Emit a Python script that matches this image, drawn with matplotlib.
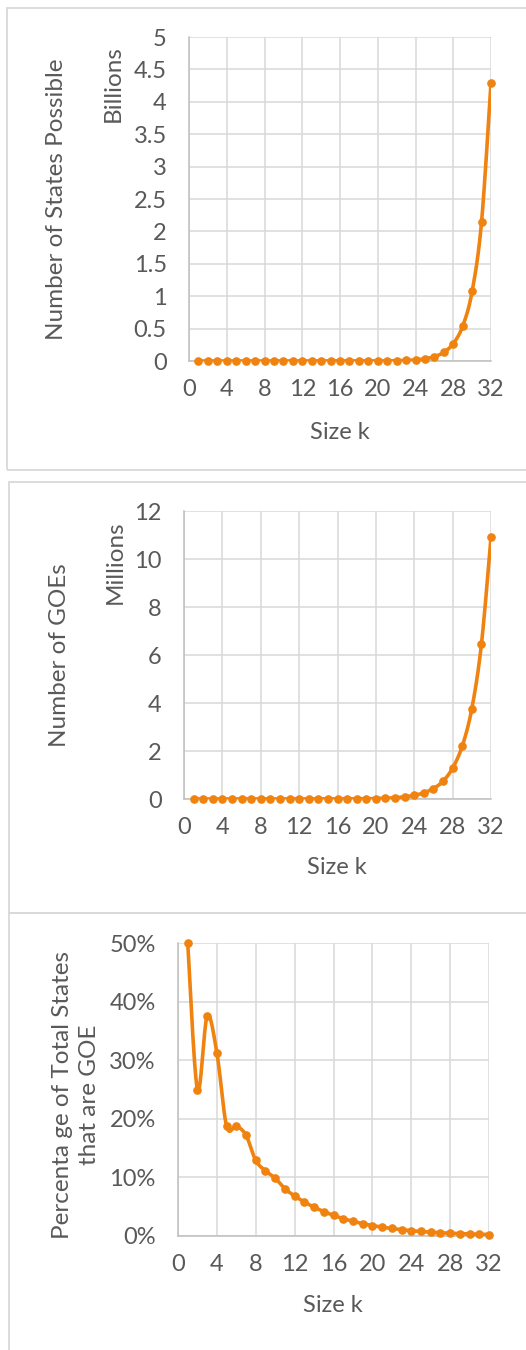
import numpy as np
import matplotlib.pyplot as plt
from matplotlib.patches import Rectangle
from matplotlib.ticker import FuncFormatter

# data
sizes = list(range(1, 33))
states = [2, 4, 8, 16, 32, 64, 128, 256, 512, 1024, 2048, 4096, 8192, 16384,
          32768, 65536, 131072, 262144, 524288, 1048576, 2097152, 4194304,
          8388608, 16777216, 33554432, 67108864, 134217728, 268435456,
          536870912, 1073741824, 2147483648, 4294967296]
goes = [1, 1, 3, 5, 6, 12, 22, 33, 57, 101, 165, 280, 476, 804, 1366, 2307,
        3893, 6580, 11115, 18770, 32000, 54000, 91000, 153000, 258000, 436000,
        740000, 1290000, 2200000, 3760000, 6440000, 10900000]
goe_pct = [50, 25, 37.5, 31.25, 18.75, 18.75, 17.19, 12.89, 11.13, 9.86, 8.06,
           6.84, 5.81, 4.91, 4.17, 3.52, 2.97, 2.51, 2.12, 1.79, 1.51, 1.28,
           1.08, 0.91, 0.77, 0.65, 0.55, 0.48, 0.41, 0.35, 0.30, 0.254]

W, H = 526, 1350
ORANGE = '#F0820F'
GRAY = '#595959'
plt.rcParams['font.family'] = ['Lato', 'DejaVu Sans']

fig = plt.figure(figsize=(W / 100, H / 100), dpi=100)


def fx(x):
    return x / W


def fy(y):
    return 1 - y / H


def smooth(x, y, n=20):
    # excel-like smoothed line (bezier through points)
    x = np.asarray(x, float)
    y = np.asarray(y, float)
    px, py = [], []
    for i in range(len(x) - 1):
        x0, y0 = (x[i - 1], y[i - 1]) if i > 0 else (x[i], y[i])
        x3, y3 = (x[i + 2], y[i + 2]) if i + 2 < len(x) else (x[i + 1], y[i + 1])
        c1x = x[i] + (x[i + 1] - x0) / 6
        c1y = y[i] + (y[i + 1] - y0) / 6
        c2x = x[i + 1] - (x3 - x[i]) / 6
        c2y = y[i + 1] - (y3 - y[i]) / 6
        t = np.linspace(0, 1, n)
        a, b, c, d = (1 - t) ** 3, 3 * t * (1 - t) ** 2, 3 * t ** 2 * (1 - t), t ** 3
        px.extend(a * x[i] + b * c1x + c * c2x + d * x[i + 1])
        py.extend(a * y[i] + b * c1y + c * c2y + d * y[i + 1])
    return px, py


def box(left, top, bottom):
    r = Rectangle((fx(left), fy(bottom)), fx(W + 20 - left), fy(top) - fy(bottom),
                  transform=fig.transFigure, fill=False, edgecolor='#D9D9D9',
                  linewidth=1.3)
    fig.patches.append(r)


def panel(rect, y, ymax, ystep, fmt, ylab, ylab_x, ylab_y, unit, unit_xy, xlab_xy):
    l, r, t, b = rect
    ax = fig.add_axes([fx(l), fy(b), fx(r - l), fy(t) - fy(b)])
    sx, sy = smooth(sizes, y)
    ax.plot(sx, sy, color=ORANGE, lw=2.6, solid_capstyle='round', zorder=3)
    ax.plot(sizes, y, 'o', color=ORANGE, ms=5.2, zorder=4, clip_on=False)
    ax.set_xlim(0, 32)
    ax.set_ylim(0, ymax)
    ax.set_xticks(range(0, 33, 4))
    ax.set_yticks(np.arange(0, ymax + ystep / 2, ystep))
    ax.yaxis.set_major_formatter(FuncFormatter(fmt))
    ax.grid(True, color='#D9D9D9', lw=1.1)
    ax.set_axisbelow(True)
    for s in ['top', 'right']:
        ax.spines[s].set_visible(False)
    for s in ['left', 'bottom']:
        ax.spines[s].set_color('#BFBFBF')
        ax.spines[s].set_linewidth(1.1)
    ax.tick_params(length=0, labelsize=17, labelcolor=GRAY)
    ax.tick_params(axis='y', pad=16)
    ax.tick_params(axis='x', pad=13)
    fig.text(fx(ylab_x), fy(ylab_y), ylab, rotation=90, ha='center', va='center',
             fontsize=17.5, color=GRAY, linespacing=1.3)
    if unit:
        fig.text(fx(unit_xy[0]), fy(unit_xy[1]), unit, rotation=90, ha='center',
                 va='center', fontsize=17.5, color=GRAY)
    fig.text(fx(xlab_xy[0]), fy(xlab_xy[1]), 'Size k', ha='center', va='center',
             fontsize=17, color=GRAY)
    return ax


box(7, 8, 470)
box(9, 482, 913)
box(9, 913, H + 20)

panel((189, 491, 37, 361), [v / 1e9 for v in states], 5, 0.5,
      lambda v, p: ('%g' % round(v, 1)), 'Number of States Possible', 57, 199,
      'Billions', (113, 84), (340, 432))
panel((184, 491, 511, 799), [v / 1e6 for v in goes], 12, 2,
      lambda v, p: '%d' % round(v), 'Number of GOEs', 59, 655,
      'Millions', (115, 562), (337, 868))
panel((178, 489, 943, 1236), [v / 100 for v in goe_pct], 0.5, 0.1,
      lambda v, p: '%d%%' % round(v * 100),
      'Percenta ge of Total States\nthat are GOE', 76, 1095,
      None, None, (333, 1306))

fig.savefig('out.png', dpi=100)
